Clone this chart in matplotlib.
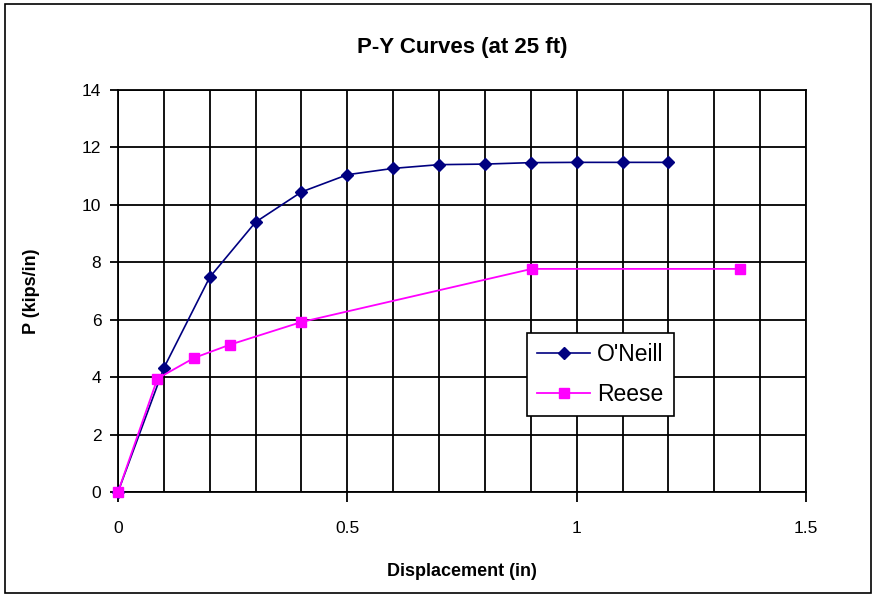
import matplotlib
matplotlib.use("Agg")
import matplotlib.pyplot as plt
from matplotlib.patches import Rectangle
from matplotlib.ticker import MultipleLocator, FuncFormatter

plt.rcParams['font.family'] = ['Liberation Sans', 'DejaVu Sans']

# O'Neill curve
oneill_x = [0, 0.1, 0.2, 0.3, 0.4, 0.5, 0.6, 0.7, 0.8, 0.9, 1.0, 1.1, 1.2]
oneill_y = [0, 4.32, 7.48, 9.4, 10.45, 11.05, 11.27, 11.4, 11.42, 11.47, 11.48, 11.48, 11.48]

# Reese curve
reese_x = [0, 0.086, 0.166, 0.244, 0.4, 0.902, 1.356]
reese_y = [0, 3.95, 4.67, 5.13, 5.92, 7.77, 7.77]

fig = plt.figure(figsize=(8.78, 5.98), dpi=100)
ax = fig.add_axes([118/878, 1-492/598, (806-118)/878, (492-90)/598])

# chart border
fig.patches.append(Rectangle((5/878, 5/598), 866/878, 589/598, transform=fig.transFigure,
                             fill=False, edgecolor='black', linewidth=1.2))

ax.plot(oneill_x, oneill_y, color='#000080', marker='D', markersize=6.5, linewidth=1.2,
        label="O'Neill", zorder=3, clip_on=False)
ax.plot(reese_x, reese_y, color='#FF00FF', marker='s', markersize=7.5, linewidth=1.3,
        label='Reese', zorder=3, clip_on=False)

ax.set_xlim(0, 1.5)
ax.set_ylim(0, 14)
ax.xaxis.set_major_locator(MultipleLocator(0.5))
ax.xaxis.set_minor_locator(MultipleLocator(0.1))
ax.yaxis.set_major_locator(MultipleLocator(2))
ax.xaxis.set_major_formatter(FuncFormatter(lambda v, p: '%g' % v))
ax.grid(which='both', color='black', linewidth=1.3)
ax.tick_params(axis='x', which='major', direction='out', length=7, width=1.3, pad=14, labelsize=12.5)
ax.tick_params(axis='x', which='minor', length=0)
ax.tick_params(axis='y', direction='out', length=6, width=1.3, pad=6, labelsize=12.5)
for s in ax.spines.values():
    s.set_linewidth(1.3)
    s.set_color('black')

ax.set_title('P-Y Curves (at 25 ft)', fontsize=16, fontweight='bold', pad=27)
ax.set_xlabel('Displacement (in)', fontsize=13, fontweight='bold', labelpad=19)
ax.set_ylabel('P (kips/in)', fontsize=13, fontweight='bold', labelpad=30)

leg = ax.legend(loc='upper left', bbox_to_anchor=((527-118)/688, (492-333)/402),
                fontsize=16.5, frameon=True, fancybox=False, borderpad=0.45,
                handlelength=2.3, handletextpad=0.3, labelspacing=0.72, borderaxespad=0)
leg.get_frame().set_edgecolor('black')
leg.get_frame().set_linewidth(1.2)
leg.get_frame().set_alpha(1)

fig.savefig('out.png', dpi=100)
